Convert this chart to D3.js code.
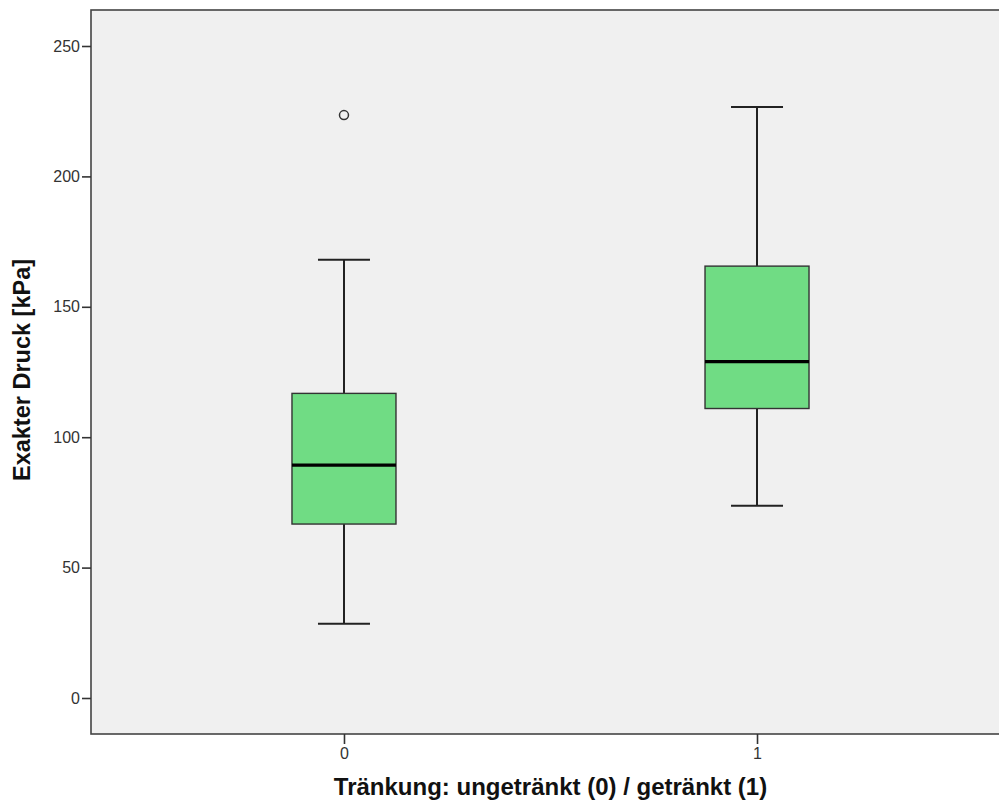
<!DOCTYPE html>
<html>
<head>
<meta charset="utf-8">
<script src="https://cdn.jsdelivr.net/npm/d3@7"></script>
<style>
body{margin:0;background:#fff;}
svg{display:block;}
</style>
</head>
<body>
<svg id="svg" width="999" height="805"></svg>
<script>
// Werte
let groups=["0","1"];
let lowWhisker=[28.5,73.7];
let q1=[66.7,111];
let median=[89.3,129];
let q3=[116.8,165.6];
let highWhisker=[168,226.6];
let outliers=[[223.5],[]];
let yTicks=[0,50,100,150,200,250];

const plotLeft=91,plotTop=10,plotRight=1010,plotBottom=734;
const svg=d3.select("#svg");

const x=d3.scalePoint().domain(groups).range([plotLeft,plotRight]).padding(0.6125);
const y=d3.scaleLinear().domain([0,250]).range([698,46]);

svg.append("rect").attr("x",plotLeft).attr("y",plotTop).attr("width",plotRight-plotLeft).attr("height",plotBottom-plotTop)
    .attr("fill","#f0f0f0").attr("stroke","#444").attr("stroke-width",1.6);

const boxW=104,capW=52;
for(let i=0;i<groups.length;i++)
{
    let cx=x(groups[i]);
    let g=svg.append("g");
    g.append("line").attr("x1",cx).attr("x2",cx).attr("y1",y(highWhisker[i])).attr("y2",y(q3[i])).attr("stroke","#222").attr("stroke-width",2);
    g.append("line").attr("x1",cx).attr("x2",cx).attr("y1",y(q1[i])).attr("y2",y(lowWhisker[i])).attr("stroke","#222").attr("stroke-width",2);
    g.append("line").attr("x1",cx-capW/2).attr("x2",cx+capW/2).attr("y1",y(highWhisker[i])).attr("y2",y(highWhisker[i])).attr("stroke","#222").attr("stroke-width",2);
    g.append("line").attr("x1",cx-capW/2).attr("x2",cx+capW/2).attr("y1",y(lowWhisker[i])).attr("y2",y(lowWhisker[i])).attr("stroke","#222").attr("stroke-width",2);
    g.append("rect").attr("x",cx-boxW/2).attr("y",y(q3[i])).attr("width",boxW).attr("height",y(q1[i])-y(q3[i]))
        .attr("fill","#70dc84").attr("stroke","#333").attr("stroke-width",1.4);
    g.append("line").attr("x1",cx-boxW/2).attr("x2",cx+boxW/2).attr("y1",y(median[i])).attr("y2",y(median[i])).attr("stroke","#000").attr("stroke-width",3.2);
    outliers[i].forEach(v=>{
        g.append("circle").attr("cx",cx).attr("cy",y(v)).attr("r",4.5).attr("fill","none").attr("stroke","#333").attr("stroke-width",1.5);
    });
}

// Achsen
const yAxis=svg.append("g").attr("transform","translate("+plotLeft+",0)")
    .call(d3.axisLeft(y).tickValues(yTicks).tickSize(9).tickPadding(2).tickFormat(d3.format("d")));
const xAxis=svg.append("g").attr("transform","translate(0,"+plotBottom+")")
    .call(d3.axisBottom(x).tickSize(10).tickPadding(4));
[yAxis,xAxis].forEach(a=>{
    a.select(".domain").remove();
    a.selectAll(".tick line").attr("stroke","#333").attr("stroke-width",1.6);
    a.selectAll(".tick text").style("font-family","Liberation Sans, Arial").style("font-size","16px").attr("fill","#333");
});

svg.append("text").attr("x",(plotLeft+plotRight)/2).attr("y",795).attr("text-anchor","middle")
    .style("font-family","Liberation Sans, Arial").style("font-weight","bold").style("font-size","24px").attr("fill","#111")
    .text("Tränkung: ungetränkt (0) / getränkt (1)");
svg.append("text").attr("transform","translate(30,370) rotate(-90)").attr("text-anchor","middle")
    .style("font-family","Liberation Sans, Arial").style("font-weight","bold").style("font-size","23.5px").attr("fill","#111")
    .text("Exakter Druck [kPa]");
</script>
</body>
</html>
